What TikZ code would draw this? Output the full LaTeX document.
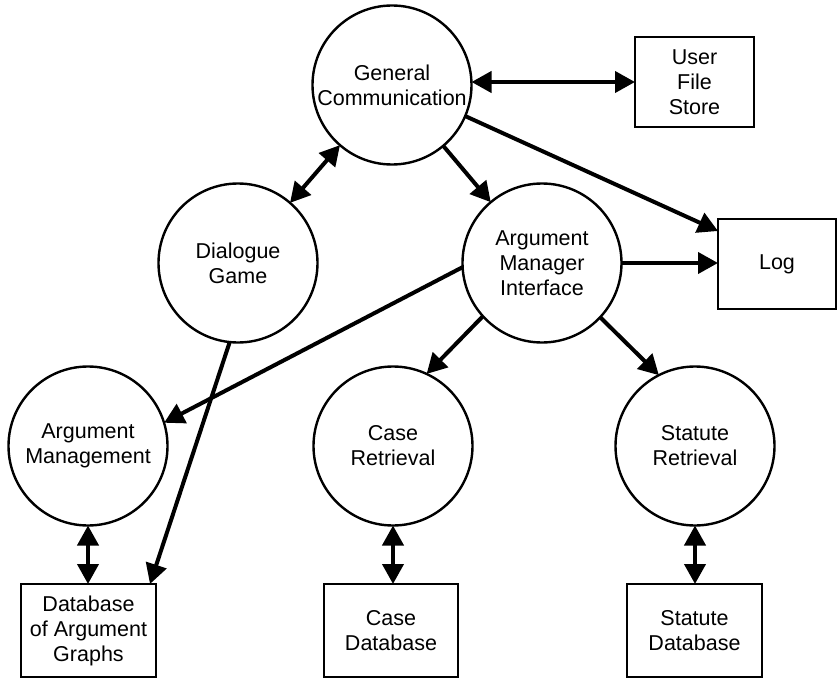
\documentclass[tikz,border=0pt]{standalone}
\usepackage{fontspec}
\setmainfont{Liberation Sans}
\usetikzlibrary{arrows.meta,calc}
\begin{document}
\begin{tikzpicture}[x=1bp,y=-1bp,
  proc/.style={circle,draw,line width=2.4bp,minimum size=159bp,inner sep=0pt,outer sep=0pt,align=center,font=\fontsize{21.5bp}{25bp}\selectfont},
  store/.style={rectangle,draw,line width=2.8bp,inner sep=0pt,outer sep=0pt,align=center,font=\fontsize{21.5bp}{25bp}\selectfont},
  flow/.style={line width=4bp,-{Triangle[length=20bp,width=21bp]}},
  dflow/.style={line width=4bp,{Triangle[length=20bp,width=21bp]}-{Triangle[length=20bp,width=21bp]}}]
\useasboundingbox (0,0) rectangle (838,680);
\node[proc] (GC) at (392,85) {General\\Communication};
\node[proc] (DG) at (238,263) {Dialogue\\Game};
\node[proc] (AMI) at (542,263) {Argument\\Manager\\Interface};
\node[proc] (AM) at (88,446) {Argument\\Management};
\node[proc] (CR) at (393,446) {Case\\Retrieval};
\node[proc] (SR) at (695,446) {Statute\\Retrieval};
\node[store,minimum width=119bp,minimum height=90bp] (UFS) at (694.5,82) {User\\File\\Store};
\node[store,minimum width=118bp,minimum height=90bp] (Log) at (777,264) {Log};
\node[store,minimum width=135bp,minimum height=93bp] (DB) at (88.5,630.5) {Database\\of Argument\\Graphs};
\node[store,minimum width=134bp,minimum height=93bp] (CD) at (391,630.5) {Case\\Database};
\node[store,minimum width=135bp,minimum height=93bp] (SD) at (694.5,630.5) {Statute\\Database};
\coordinate (LogIn) at ($(Log.north west)+(0,12)$);
\coordinate (DBIn) at ($(DB.north east)+(-6,0)$);
\draw[dflow] (GC.east |- UFS.west) -- (UFS.west);
\draw[dflow] (GC) -- (DG);
\draw[flow] (GC) -- (AMI);
\draw[flow] (GC.-23) -- (LogIn);
\draw[flow] (AMI.east) -- (AMI.east -| Log.west);
\draw[flow] (AMI.183) -- (AM.17);
\draw[flow] (DG.264) -- (DBIn);
\draw[flow] (AMI.222) -- (CR.65);
\draw[flow] (AMI.317) -- (SR.117);
\draw[dflow] (AM.south) -- (AM.south |- DB.north);
\draw[dflow] (CR.south) -- (CR.south |- CD.north);
\draw[dflow] (SR.south) -- (SR.south |- SD.north);
\end{tikzpicture}
\end{document}
